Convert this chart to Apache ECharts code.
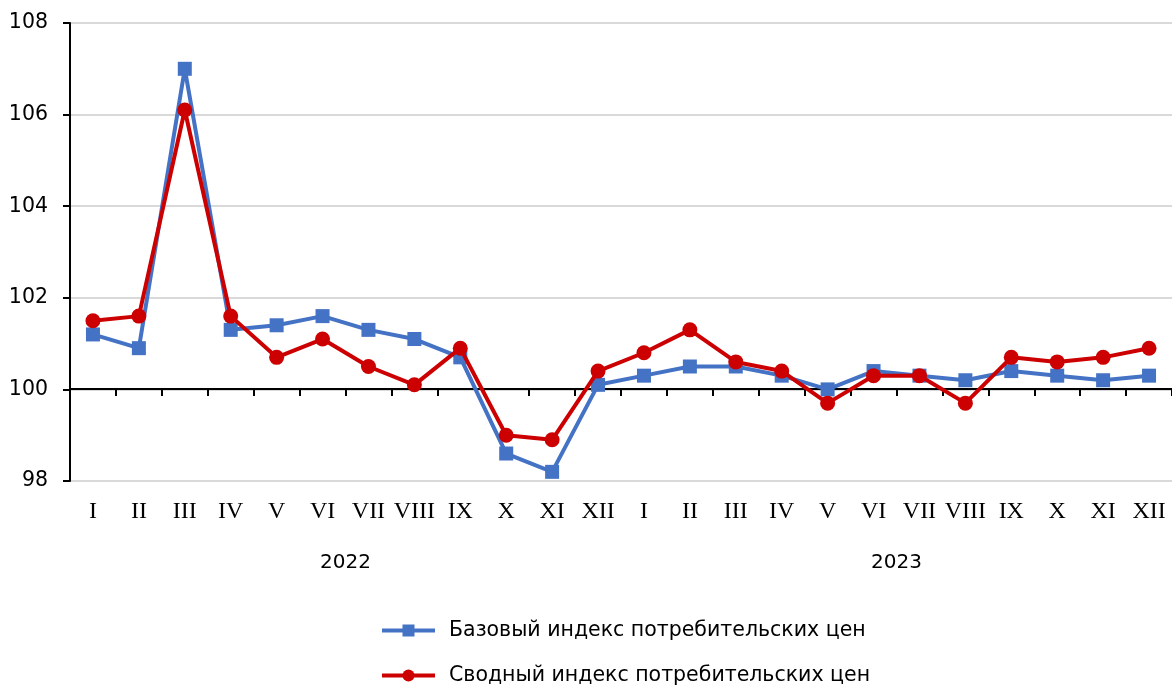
<!DOCTYPE html>
<html>
<head>
<meta charset="utf-8">
<script src="https://cdn.jsdelivr.net/npm/echarts@6/dist/echarts.min.js"></script>
<style>
  html, body { margin: 0; padding: 0; background: #fff; }
  #chart { width: 1172px; height: 687px; }
</style>
</head>
<body>
<div id="chart"></div>
<script>
// months, two years
const months = ['I', 'II', 'III', 'IV', 'V', 'VI', 'VII', 'VIII', 'IX', 'X', 'XI', 'XII',
	'I', 'II', 'III', 'IV', 'V', 'VI', 'VII', 'VIII', 'IX', 'X', 'XI', 'XII'];
const years = ['2022', '2023'];
const baseIndex = [101.2, 100.9, 107.0, 101.3, 101.4, 101.6, 101.3, 101.1, 100.7, 98.6, 98.2, 100.1,
	100.3, 100.5, 100.5, 100.3, 100.0, 100.4, 100.3, 100.2, 100.4, 100.3, 100.2, 100.3];
const totalIndex = [101.5, 101.6, 106.1, 101.6, 100.7, 101.1, 100.5, 100.1, 100.9, 99.0, 98.9, 100.4,
	100.8, 101.3, 100.6, 100.4, 99.7, 100.3, 100.3, 99.7, 100.7, 100.6, 100.7, 100.9];
const names = ['Базовый индекс потребительских цен', 'Сводный индекс потребительских цен'];

const sans = 'DejaVu Sans';
const blue = '#4472C4';
const red = '#CC0000';
const chart = echarts.init(document.getElementById('chart'));

const legendBase = {
	left: 375,
	itemWidth: 53,
	itemHeight: 15,
	lineStyle: { width: 4 },
	textStyle: { fontFamily: sans, fontSize: 20.5, color: '#000', padding: [0, 0, 0, 9] },
};

chart.setOption({
	animation: false,
	grid: [
		// main plot
		{ left: 70, right: -3, top: 23, height: 458 },
		// helper grid: its bottom edge sits on the value 100, for the black axis with ticks
		{ left: 70, right: -3, top: 23, height: 366 },
	],
	legend: [
		Object.assign({ top: 615, data: [names[0]] }, legendBase),
		Object.assign({ top: 660, data: [names[1]] }, legendBase),
	],
	xAxis: [
		{
			type: 'category',
			gridIndex: 0,
			data: months,
			axisLine: { show: false },
			axisTick: { show: false },
			axisLabel: { fontFamily: 'Liberation Serif', fontSize: 24, color: '#000', margin: 19, interval: 0 },
		},
		{
			type: 'category',
			gridIndex: 0,
			position: 'bottom',
			data: years,
			axisLine: { show: false },
			axisTick: { show: false },
			axisLabel: { fontFamily: sans, fontSize: 20, color: '#000', margin: 72 },
		},
		{
			type: 'category',
			gridIndex: 1,
			data: months,
			axisLine: { show: true, lineStyle: { color: '#000', width: 2 } },
			axisTick: { show: true, length: 7, interval: 0, lineStyle: { color: '#000', width: 2 } },
			axisLabel: { show: false },
		},
	],
	yAxis: [
		{
			type: 'value',
			gridIndex: 0,
			min: 98,
			max: 108,
			interval: 2,
			axisLine: { show: true, lineStyle: { color: '#000', width: 2 } },
			axisTick: { show: true, length: 7, lineStyle: { color: '#000', width: 2 } },
			axisLabel: { fontFamily: sans, fontSize: 20.5, color: '#000', margin: 22 },
			splitLine: { show: true, lineStyle: { color: '#d9d9d9', width: 2 } },
		},
		{
			type: 'value',
			gridIndex: 1,
			show: false,
		},
	],
	series: [
		{
			name: names[0],
			type: 'line',
			xAxisIndex: 0,
			yAxisIndex: 0,
			data: baseIndex,
			symbol: 'rect',
			symbolSize: 14,
			color: blue,
			lineStyle: { width: 4, color: blue },
			itemStyle: { color: blue },
			z: 3,
		},
		{
			name: names[1],
			type: 'line',
			xAxisIndex: 0,
			yAxisIndex: 0,
			data: totalIndex,
			symbol: 'circle',
			symbolSize: 15,
			color: red,
			lineStyle: { width: 4, color: red },
			itemStyle: { color: red },
			z: 4,
		},
	],
});
</script>
</body>
</html>
